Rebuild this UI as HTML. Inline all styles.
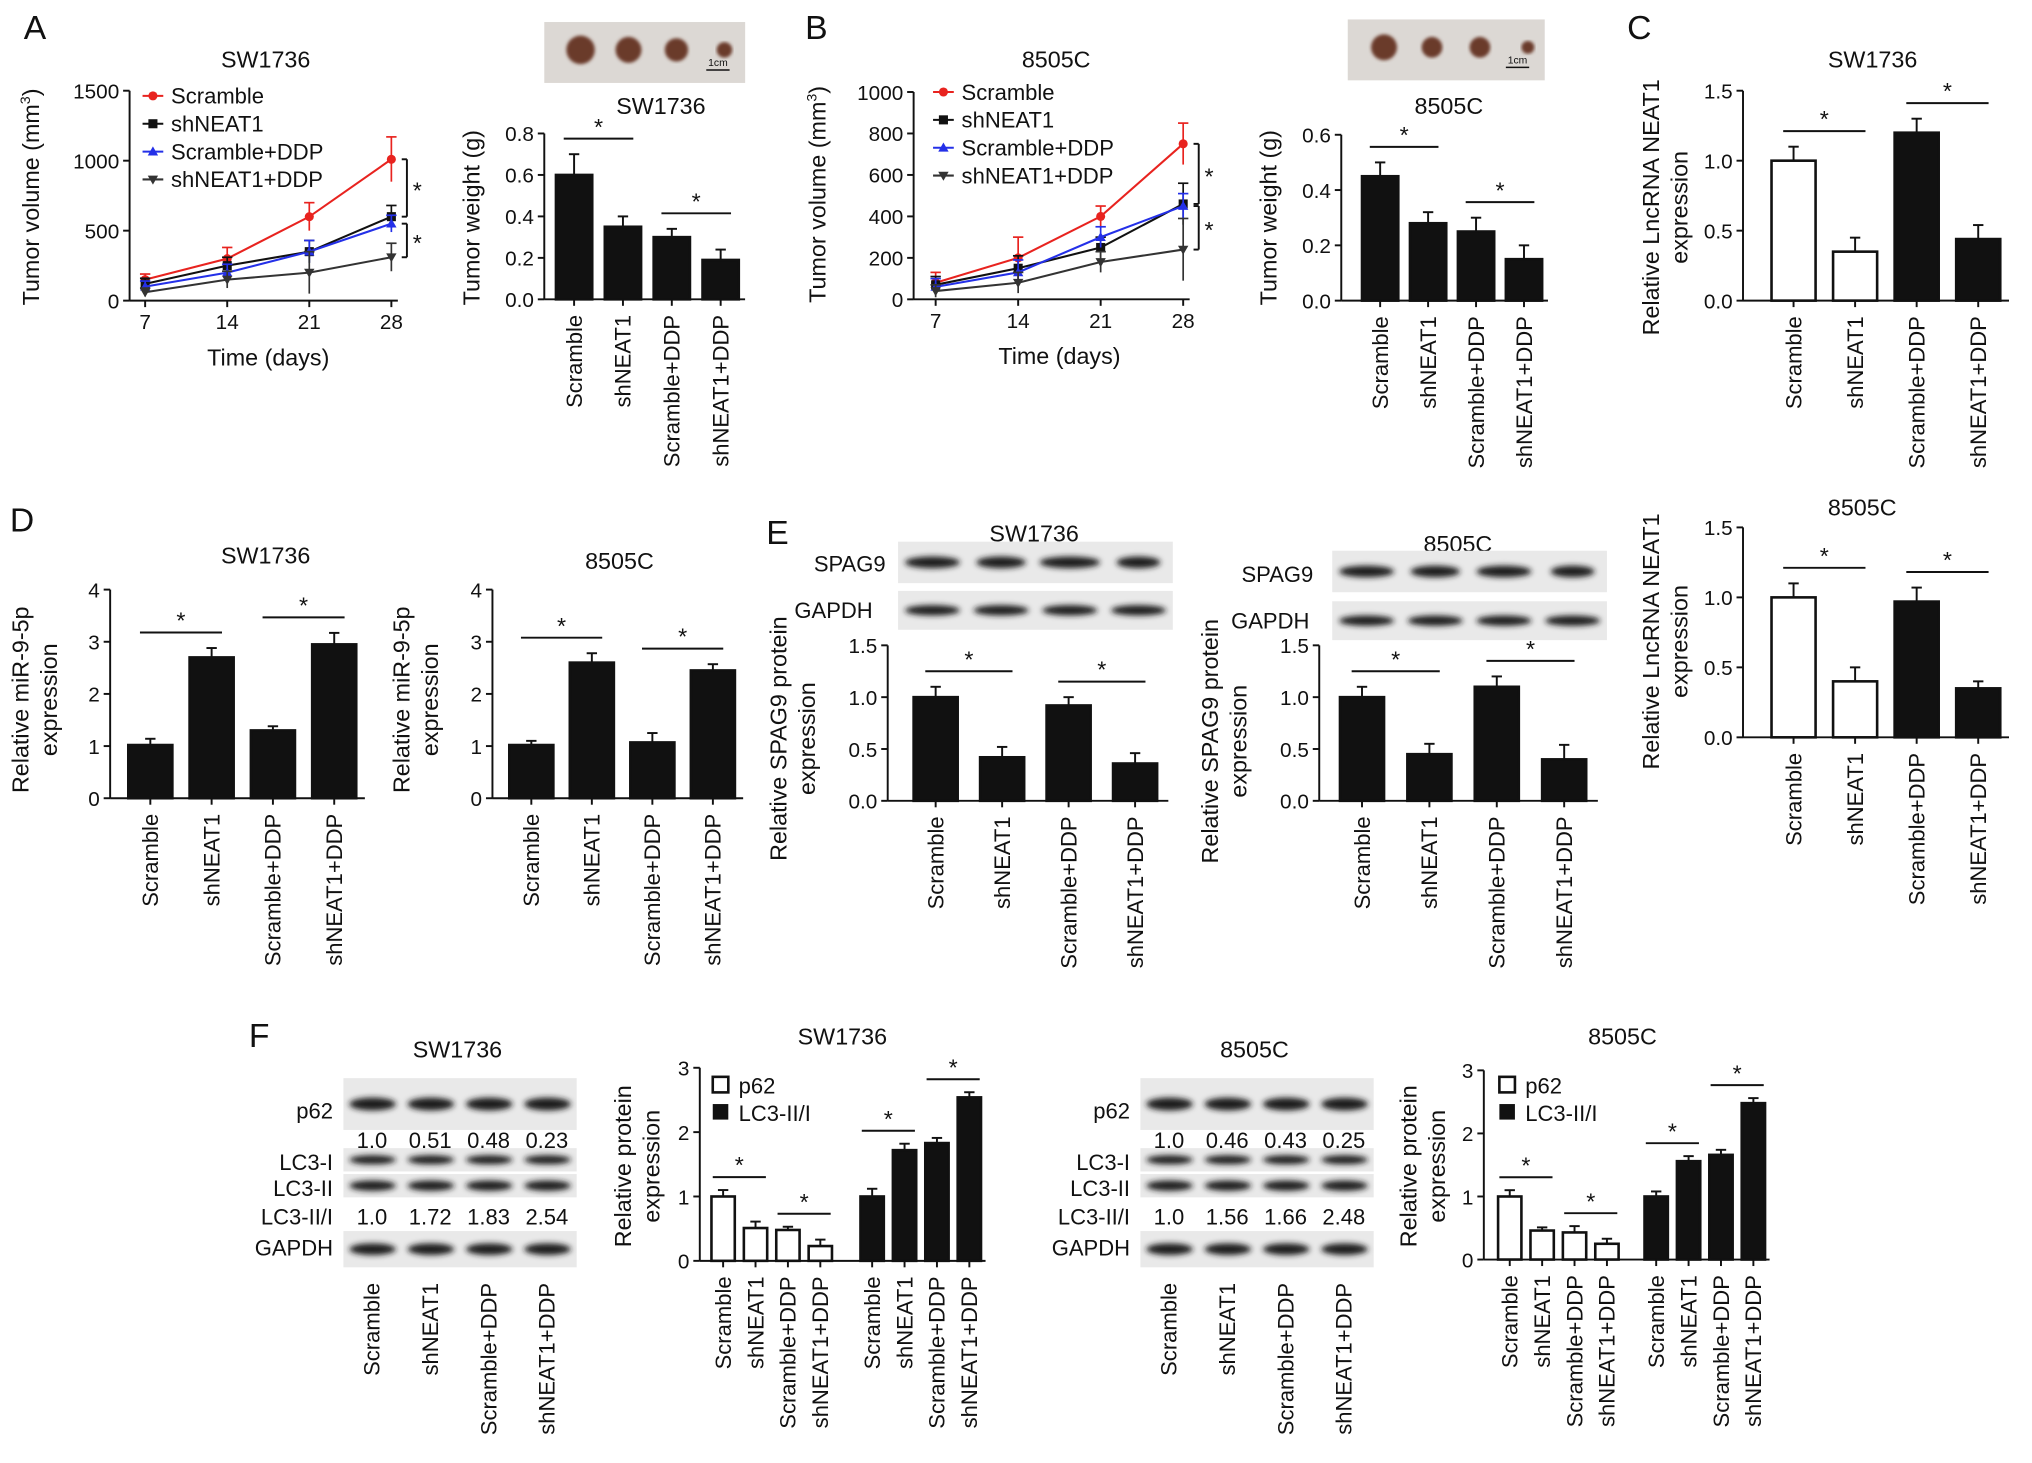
<!DOCTYPE html>
<html><head><meta charset="utf-8"><style>
html,body{margin:0;padding:0;background:#fff}
svg{display:block}
text{font-family:"Liberation Sans",Arial,sans-serif;fill:#111}
</style></head><body>
<svg id="fig" xmlns="http://www.w3.org/2000/svg" width="2032" height="1463" viewBox="0 0 1568 1129" preserveAspectRatio="none">
<defs><filter id="bl" x="-20%" y="-100%" width="140%" height="300%"><feGaussianBlur stdDeviation="2.2"/></filter>
<filter id="bl2"><feGaussianBlur stdDeviation="1.2"/></filter></defs>
</svg>
<script>
const NS='http://www.w3.org/2000/svg';
const svg=document.getElementById('fig');
// ---------- data ----------
const days=[7,14,21,28];
const lineSeriesNames=['Scramble','shNEAT1','Scramble+DDP','shNEAT1+DDP'];
const aScramble=[150,300,600,1010];
const aShNEAT1=[120,250,350,600];
const aScrDDP=[100,200,350,550];
const aShDDP=[60,150,200,310];
const aErr=[[40,80,100,160],[40,60,80,80],[40,60,80,60],[30,60,150,100]];
const bScramble=[80,200,400,750];
const bShNEAT1=[70,150,250,460];
const bScrDDP=[60,130,300,450];
const bShDDP=[40,80,180,240];
const bErr=[[50,100,50,100],[40,60,50,100],[40,60,50,60],[30,50,50,150]];
const cats=['Scramble','shNEAT1','Scramble+DDP','shNEAT1+DDP'];
const wA=[0.6,0.35,0.3,0.19], wAe=[0.1,0.05,0.04,0.05];
const wB=[0.45,0.28,0.25,0.15], wBe=[0.05,0.04,0.05,0.05];
const cTop=[1.0,0.35,1.2,0.44], cTopE=[0.1,0.1,0.1,0.1];
const cBot=[1.0,0.4,0.97,0.35], cBotE=[0.1,0.1,0.1,0.05];
const dL=[1.02,2.7,1.3,2.95], dLe=[0.12,0.18,0.08,0.22];
const dR=[1.02,2.6,1.07,2.45], dRe=[0.08,0.18,0.18,0.12];
const eL=[1.0,0.42,0.92,0.36], eLe=[0.1,0.1,0.08,0.1];
const eR=[1.0,0.45,1.1,0.4], eRe=[0.1,0.1,0.1,0.14];
const fLp62=[1.0,0.51,0.48,0.23], fLlc3=[1.0,1.72,1.83,2.54];
const fRp62=[1.0,0.46,0.43,0.25], fRlc3=[1.0,1.56,1.66,2.48];
const fLe=[0.1,0.1,0.05,0.1,0.12,0.1,0.08,0.08];
const fRe=[0.1,0.05,0.1,0.08,0.08,0.08,0.08,0.08];
// ---------- helpers ----------
function mk(tag,attrs,parent){const e=document.createElementNS(NS,tag);for(const k in attrs)e.setAttribute(k,attrs[k]);(parent||svg).appendChild(e);return e;}
function tx(x,y,s,size,anchor,rot,name){const t=mk('text',{x:x,y:y,'font-size':size,'text-anchor':anchor||'middle'});if(rot)t.setAttribute('transform','rotate('+rot+' '+x+' '+y+')');t.textContent=s;

return t;}
function ln(x1,y1,x2,y2,w,c){const l=mk('line',{x1:x1,y1:y1,x2:x2,y2:y2,stroke:c||'#111','stroke-width':w||1.5});

return l;}
function yAxis(ax,y0,yTop,max,ticks,fmt){ln(ax,y0,ax,yTop);ticks.forEach(v=>{const y=y0-v/max*(y0-yTop);ln(ax-5,y,ax,y);tx(ax-8,y+6,fmt(v),16,'end',0,'y-tick-label');});}
function barPanel(c){
 const g=mk('g',{});
 const sy=v=>c.y0-v/c.max*(c.y0-c.yTop);
 const cx=i=>c.start+i*c.step+(i>=4?(c.gap||0):0);
 yAxis(c.ax,c.y0,c.yTop,c.max,c.ticks,c.fmt);
 const n=c.vals.length;ln(c.ax,c.y0,cx(n-1)+c.step/2,c.y0);
 c.vals.forEach((v,i)=>{const x=cx(i);const top=sy(v);
  const e=sy(v+c.errs[i]);ln(x,e,x,top,1.5);ln(x-4,e,x+4,e,1.5);
  const r=mk('rect',{x:x-c.w/2,y:top,width:c.w,height:c.y0-top,fill:c.fills[i],stroke:'#111','stroke-width':2});
  
  
  ln(x,c.y0,x,c.y0+5);
  tx(x+6,c.y0+12,c.catsL[i],17,'end',-90,'x-category-label');
 });
 c.sigs.forEach(p=>{const a=p[0],b=p[1];const m=Math.max(c.vals[a]+c.errs[a],c.vals[b]+c.errs[b]);const y=sy(m)-(c.sigOff||12);
  ln(cx(a)-8,y,cx(b)+8,y,1.5);tx((cx(a)+cx(b))/2,y-3,'*',18,'middle',0,'significance-star');});
 if(c.title)tx(c.tx,c.ty,c.title,18,'middle',0,'chart-title');
 c.ylab.forEach((s,k)=>tx(c.ylx+k*22,c.yly,s,18,'middle',-90,'y-axis-title'));
}
function linePanel(c){
 const sx=d=>c.x7+(d-7)/21*(c.x28-c.x7);const sy=v=>c.y0-v/c.max*(c.y0-c.yTop);
 yAxis(c.ax,c.y0,c.yTop,c.max,c.ticks,v=>String(v));
 ln(c.ax,c.y0,c.x28+5,c.y0);
 days.forEach(d=>{ln(sx(d),c.y0,sx(d),c.y0+5);tx(sx(d),c.y0+22,String(d),16,'middle',0,'x-tick-label');});
 const cols=['#e8231f','#111','#2430e8','#333'];const marks=['circle','square','tri','dtri'];
 c.series.forEach((s,k)=>{
  const pts=s.map((v,i)=>sx(days[i])+','+sy(v)).join(' ');
  s.forEach((v,i)=>{const x=sx(days[i]);ln(x,sy(v+c.errs[k][i]),x,sy(Math.max(0,v-c.errs[k][i])),1.3,cols[k]);ln(x-4,sy(v+c.errs[k][i]),x+4,sy(v+c.errs[k][i]),1.3,cols[k]);});
  const p=mk('polyline',{points:pts,fill:'none',stroke:cols[k],'stroke-width':1.6});
  
  
  s.forEach((v,i)=>marker(sx(days[i]),sy(v),marks[k],cols[k]));
  const ly=c.legY+k*c.legStep;ln(c.legX,ly,c.legX+16,ly,1.6,cols[k]);marker(c.legX+8,ly,marks[k],cols[k]);
  tx(c.legX+22,ly+6,lineSeriesNames[k],17,'start',0,'legend-entry');
 });
 tx(c.tx,c.ty,c.title,18,'middle',0,'chart-title');
 tx((c.x7+c.x28)/2,c.y0+50,'Time (days)',18,'middle',0,'x-axis-title');
 const t=tx(c.ylx,c.yly,'Tumor volume (mm',18,'middle',-90,'y-axis-title');const sp=mk('tspan',{'font-size':11,dy:-7},t);sp.textContent='3';const sp2=mk('tspan',{dy:7},t);sp2.textContent=')';
 const bx=c.x28+12;
 [[c.series[0][3],c.series[1][3]],[c.series[2][3],c.series[3][3]]].forEach(pr=>{const y1=sy(pr[0]),y2=sy(pr[1]);ln(bx-4,y1,bx,y1);ln(bx,y1,bx,y2);ln(bx-4,y2,bx,y2);tx(bx+8,(y1+y2)/2+8,'*',18,'middle',0,'significance-star');});
}
function marker(x,y,t,c){let m;
 if(t==='circle')m=mk('circle',{cx:x,cy:y,r:3.5,fill:c});
 else if(t==='square')m=mk('rect',{x:x-3.5,y:y-3.5,width:7,height:7,fill:c});
 else if(t==='tri')m=mk('polygon',{points:`${x},${y-4} ${x-4},${y+3} ${x+4},${y+3}`,fill:c});
 else m=mk('polygon',{points:`${x},${y+4} ${x-4},${y-3} ${x+4},${y-3}`,fill:c});
 
 }
function blotRow(x,y,w,h,n,thick,widths){const r=mk('rect',{x:x,y:y,width:w,height:h,fill:'#e9e9e9'});
 
 
 for(let i=0;i<n;i++){const cx=x+w*(i+0.5)/n;const e=mk('ellipse',{cx:cx,cy:y+h/2,rx:(widths?widths[i]:1)*w/n*0.4,ry:thick,fill:'#1a1a1a',filter:'url(#bl)'});
 
 }}
function tumors(x,y,w,h,sizes){const r=mk('rect',{x:x,y:y,width:w,height:h,fill:'#dcd8d4'});
 
 
 sizes.forEach((s,i)=>{const c=mk('circle',{cx:x+28+i*37,cy:y+h/2-2,r:s,fill:'#6a3a2a',filter:'url(#bl2)'});
 
 });
 ln(x+w-30,y+h-10,x+w-12,y+h-10,1.2);tx(x+w-21,y+h-13,'1cm',8,'middle',0,'scale-bar-label');}
function letter(s,x,y){tx(x,y,s,26,'middle',0,'panel-letter-'+s.toLowerCase());}
const f1=v=>v.toFixed(1), f0=v=>String(v);
// ---------- Panel A ----------
letter('A',27,30);
linePanel({ax:100,x7:112,x28:302,y0:232,yTop:70,max:1500,ticks:[0,500,1000,1500],series:[aScramble,aShNEAT1,aScrDDP,aShDDP],errs:aErr,legX:110,legY:74,legStep:21.5,title:'SW1736',tx:205,ty:52,ylx:30,yly:152});
tumors(420,17,155,47,[11,10,9,6]);
barPanel({name:'tumor-weight-sw1736',ax:420,y0:231,yTop:103,max:0.8,ticks:[0,0.2,0.4,0.6,0.8],fmt:f1,start:443,step:37.7,w:28,vals:wA,errs:wAe,fills:['#111','#111','#111','#111'],catsL:cats,sigs:[[0,1],[2,3]],title:'SW1736',tx:510,ty:88,ylab:['Tumor weight (g)'],ylx:370,yly:168});
// ---------- Panel B ----------
letter('B',630,30);
linePanel({ax:705,x7:722,x28:913,y0:231,yTop:71,max:1000,ticks:[0,200,400,600,800,1000],series:[bScramble,bShNEAT1,bScrDDP,bShDDP],errs:bErr,legX:720,legY:71,legStep:21.5,title:'8505C',tx:815,ty:52,ylx:637,yly:150});
tumors(1040,15,152,47,[10,8,8,5]);
barPanel({name:'tumor-weight-8505c',ax:1035,y0:232,yTop:104,max:0.6,ticks:[0,0.2,0.4,0.6],fmt:f1,start:1065,step:37,w:28,vals:wB,errs:wBe,fills:['#111','#111','#111','#111'],catsL:cats,sigs:[[0,1],[2,3]],title:'8505C',tx:1118,ty:88,ylab:['Tumor weight (g)'],ylx:985,yly:168});
// ---------- Panel C ----------
letter('C',1265,30);
barPanel({name:'neat1-sw1736',ax:1345,y0:232,yTop:70,max:1.5,ticks:[0,0.5,1,1.5],fmt:f1,start:1384,step:47.5,w:34,vals:cTop,errs:cTopE,fills:['#fff','#fff','#111','#111'],catsL:cats,sigs:[[0,1],[2,3]],title:'SW1736',tx:1445,ty:52,ylab:['Relative LncRNA NEAT1','expression'],ylx:1280,yly:160});
barPanel({name:'neat1-8505c',ax:1345,y0:569,yTop:407,max:1.5,ticks:[0,0.5,1,1.5],fmt:f1,start:1384,step:47.5,w:34,vals:cBot,errs:cBotE,fills:['#fff','#fff','#111','#111'],catsL:cats,sigs:[[0,1],[2,3]],title:'8505C',tx:1437,ty:398,ylab:['Relative LncRNA NEAT1','expression'],ylx:1280,yly:495});
// ---------- Panel D ----------
letter('D',17,410);
barPanel({name:'mir95p-sw1736',ax:85,y0:616,yTop:455,max:4,ticks:[0,1,2,3,4],fmt:f0,start:116,step:47.3,w:34,vals:dL,errs:dLe,fills:['#111','#111','#111','#111'],catsL:cats,sigs:[[0,1],[2,3]],title:'SW1736',tx:205,ty:435,ylab:['Relative miR-9-5p','expression'],ylx:22,yly:540});
barPanel({name:'mir95p-8505c',ax:380,y0:616,yTop:455,max:4,ticks:[0,1,2,3,4],fmt:f0,start:410,step:46.7,w:34,vals:dR,errs:dRe,fills:['#111','#111','#111','#111'],catsL:cats,sigs:[[0,1],[2,3]],title:'8505C',tx:478,ty:439,ylab:['Relative miR-9-5p','expression'],ylx:316,yly:540});
// ---------- Panel E ----------
letter('E',600,420);
tx(798,418,'SW1736',18,'middle',0,'blot-title');
tx(628,441,'SPAG9',17,'start',0,'blot-label');tx(613,477,'GAPDH',17,'start',0,'blot-label');
blotRow(693,418,212,32,4,4.5,[1,0.9,1.1,0.8]);blotRow(693,456,212,30,4,4);
barPanel({name:'spag9-sw1736',ax:685,y0:618,yTop:498,max:1.5,ticks:[0,0.5,1,1.5],fmt:f1,start:722,step:51.3,w:34,vals:eL,errs:eLe,fills:['#111','#111','#111','#111'],catsL:cats,sigs:[[0,1],[2,3]],ylab:['Relative SPAG9 protein','expression'],ylx:607,yly:570});
tx(1125,426,'8505C',18,'middle',0,'blot-title');
tx(958,449,'SPAG9',17,'start',0,'blot-label');tx(950,485,'GAPDH',17,'start',0,'blot-label');
blotRow(1028,425,212,32,4,4.5,[1,0.9,1,0.8]);blotRow(1028,464,212,30,4,4);
barPanel({name:'spag9-8505c',ax:1018,y0:618,yTop:498,max:1.5,ticks:[0,0.5,1,1.5],fmt:f1,start:1051,step:52,w:34,vals:eR,errs:eRe,fills:['#111','#111','#111','#111'],catsL:cats,sigs:[[0,1],[2,3]],ylab:['Relative SPAG9 protein','expression'],ylx:940,yly:572});
// ---------- Panel F ----------
letter('F',200,808);
function fBlot(x,title,n1,n2){
 tx(x+88,816,title,18,'middle',0,'blot-title');
 blotRow(x,832,180,40,4,5);tx(x-8,863,'p62',17,'end',0,'blot-label');
 n1.forEach((v,i)=>tx(x+22+i*45,886,v,17,'middle',0,'band-quantity'));
 blotRow(x,886,180,18,4,3.5);blotRow(x,906,180,18,4,4);
 tx(x-8,903,'LC3-I',17,'end',0,'blot-label');tx(x-8,923,'LC3-II',17,'end',0,'blot-label');
 tx(x-8,945,'LC3-II/I',17,'end',0,'blot-label');n2.forEach((v,i)=>tx(x+22+i*45,945,v,17,'middle',0,'band-quantity'));
 blotRow(x,950,180,28,4,4.5);tx(x-8,969,'GAPDH',17,'end',0,'blot-label');
 cats.forEach((c,i)=>tx(x+28+i*45,990,c,17,'end',-90,'x-category-label'));
}
fBlot(265,'SW1736',['1.0','0.51','0.48','0.23'],['1.0','1.72','1.83','2.54']);
fBlot(880,'8505C',['1.0','0.46','0.43','0.25'],['1.0','1.56','1.66','2.48']);
const W='#fff',K='#111';
barPanel({name:'protein-sw1736',ax:540,y0:973,yTop:824,max:3,ticks:[0,1,2,3],fmt:f0,start:558,step:25,gap:15,w:18,vals:fLp62.concat(fLlc3),errs:fLe,fills:[W,W,W,W,K,K,K,K],catsL:cats.concat(cats),sigs:[[0,1],[2,3],[4,5],[6,7]],sigOff:10,title:'SW1736',tx:650,ty:806,ylab:['Relative protein','expression'],ylx:487,yly:900});
barPanel({name:'protein-8505c',ax:1145,y0:972,yTop:826,max:3,ticks:[0,1,2,3],fmt:f0,start:1165,step:25,gap:13,w:18,vals:fRp62.concat(fRlc3),errs:fRe,fills:[W,W,W,W,K,K,K,K],catsL:cats.concat(cats),sigs:[[0,1],[2,3],[4,5],[6,7]],sigOff:10,title:'8505C',tx:1252,ty:806,ylab:['Relative protein','expression'],ylx:1093,yly:900});
function fLegend(x){const a=mk('rect',{x:x,y:831,width:12,height:12,fill:'#fff',stroke:'#111','stroke-width':2});
 
 
 tx(x+20,844,'p62',17,'start',0,'legend-entry');
 const b=mk('rect',{x:x,y:852,width:12,height:12,fill:'#111'});
 
 
 tx(x+20,865,'LC3-II/I',17,'start',0,'legend-entry');}
fLegend(550);fLegend(1157);
</script>
</body></html>
